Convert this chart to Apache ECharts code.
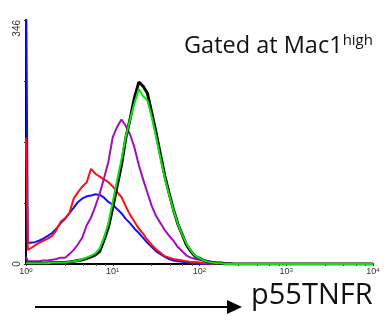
<!DOCTYPE html>
<html><head><meta charset="utf-8">
<script src="https://cdn.jsdelivr.net/npm/echarts@6/dist/echarts.min.js"></script>
<style>html,body{margin:0;padding:0;background:#fff}#c{width:386px;height:322px}</style>
</head><body><div id="c"></div>
<script>
// channel positions (log scale)
const channels = [1, 1.05, 1.12, 1.26, 1.41, 1.58, 1.78, 2.0, 2.24, 2.51, 2.82, 3.16, 3.55, 3.98, 4.47, 5.01, 5.62, 6.31, 7.08, 7.94, 8.91,
  10, 11.2, 12.6, 14.1, 15.8, 17.8, 20.0, 22.4, 25.1, 28.2, 31.6, 35.5, 39.8, 44.7, 50.1, 56.2, 63.1, 70.8, 79.4, 89.1,
  100, 112, 126, 141, 158, 178, 200, 224, 251, 282, 316, 10000];
const blueCounts = [420, 30, 30, 31, 33, 36, 40, 44, 50, 58, 64, 72, 80, 88, 93, 96, 97, 99, 98, 94, 88,
  84, 78, 72, 64, 58, 50, 44, 37, 30, 24, 18, 14, 10, 7, 5, 4, 3, 2, 1, 1,
  0, 0, 0, 0, 0, 0, 0, 0, 0, 0, 0, 0];
const redCounts = [179, 20, 22, 26, 30, 33, 36, 40, 48, 60, 65, 72, 93, 102, 110, 116, 135, 128, 124, 120, 116,
  110, 102, 95, 82, 70, 60, 50, 43, 34, 27, 21, 16, 11, 9, 7, 6, 5, 4, 3, 3,
  2, 1, 1, 0, 0, 0, 0, 0, 0, 0, 0, 0];
const purpleCounts = [10, 4, 4, 4, 4, 5, 5, 6, 7, 9, 9, 14, 20, 28, 38, 55, 66, 82, 100, 122, 145,
  180, 194, 205, 196, 184, 165, 140, 120, 101, 82, 68, 58, 48, 40, 33, 24, 18, 12, 9, 7,
  6, 5, 4, 3, 2, 2, 1, 1, 0, 0, 0, 0];
const blackCounts = [1, 1, 1, 1, 1, 1, 1, 2, 2, 2, 2, 3, 4, 5, 6, 8, 10, 13, 18, 34, 52,
  80, 110, 140, 178, 205, 236, 258, 252, 242, 214, 186, 155, 125, 100, 77, 57, 42, 27, 18, 11,
  8, 5, 3, 2, 1, 1, 0, 0, 0, 0, 0, 0];
const greenCounts = [1, 1, 1, 1, 1, 1, 1, 2, 2, 2, 2, 3, 4, 5, 7, 9, 12, 15, 22, 38, 58,
  88, 118, 148, 180, 205, 228, 248, 238, 232, 208, 180, 150, 122, 98, 76, 57, 42, 29, 19, 12,
  8, 5, 3, 2, 1, 1, 0, 0, 0, 0, 0, 0];
const xExponents = ['0', '1', '2', '3', '4'];
const yMax = 346;
const yLabels = ['0', '346'];

function pairs(vals) { return channels.map((c, i) => [c, vals[i]]); }

const chart = echarts.init(document.getElementById('c'), null, {renderer: 'canvas'});
const mk = (name, vals, color, w, z) => ({
  name, type: 'line', data: pairs(vals), showSymbol: false, symbol: 'none',
  lineStyle: {color, width: w}, z, clip: true, animation: false
});
chart.setOption({
  animation: false,
  grid: {left: 26, right: 13, top: 20, bottom: 58},
  xAxis: {
    type: 'log', logBase: 10, min: 1, max: 10000,
    axisLine: {lineStyle: {color: '#000', width: 2}},
    axisTick: {show: true, length: 2, lineStyle: {color: '#333'}},
    minorTick: {show: true, length: 2, splitNumber: 5, lineStyle: {color: '#555'}},
    splitLine: {show: false},
    axisLabel: {
      margin: 3,
      formatter: v => '{b|10}{s|' + xExponents[Math.round(Math.log10(v))] + '}',
      rich: {b: {fontSize: 9, color: '#333', fontFamily: 'Liberation Sans'},
             s: {fontSize: 6, color: '#333', fontFamily: 'Liberation Sans', padding: [0, 0, 4, 0]}}
    }
  },
  yAxis: {
    type: 'value', min: 0, max: yMax, interval: yMax / 4,
    axisLine: {show: true, lineStyle: {color: '#000040', width: 2}},
    axisTick: {show: true, length: 2, lineStyle: {color: '#333'}},
    splitLine: {show: false},
    axisLabel: {
      rotate: 90, margin: 4, fontSize: 10, color: '#333', fontFamily: 'Liberation Sans',
      alignMinLabel: 'center', alignMaxLabel: 'right',
      formatter: v => v === 0 ? yLabels[0] : (Math.abs(v - yMax) < 0.01 ? yLabels[1] : '')
    }
  },
  series: [
    mk('blue', blueCounts, '#1010ff', 2, 2),
    mk('red', redCounts, '#ff1010', 2, 3),
    mk('purple', purpleCounts, '#a010b8', 2, 4),
    mk('black', blackCounts, '#000000', 3, 5),
    mk('green', greenCounts, '#10e010', 2, 6)
  ],
  graphic: [
    {type: 'text', left: 184, top: 33, z: 10,
     style: {text: '{a|Gated at Mac1}{h|high}', rich: {
       a: {fontSize: 23.5, fontFamily: 'Open Sans', fill: '#111'},
       h: {fontSize: 15, fontFamily: 'Open Sans', fill: '#111', padding: [0, 0, 11, 0]}}}},
    {type: 'line', z: 10, shape: {x1: 35, y1: 307, x2: 230, y2: 307}, style: {stroke: '#000', lineWidth: 2}},
    {type: 'polygon', z: 10, shape: {points: [[227, 300], [242, 307], [227, 314]]}, style: {fill: '#000'}},
    {type: 'text', left: 251, top: 281, z: 10,
     style: {text: 'p55TNFR', fontSize: 29, fontFamily: 'Open Sans', fill: '#111'}}
  ]
});
</script></body></html>
